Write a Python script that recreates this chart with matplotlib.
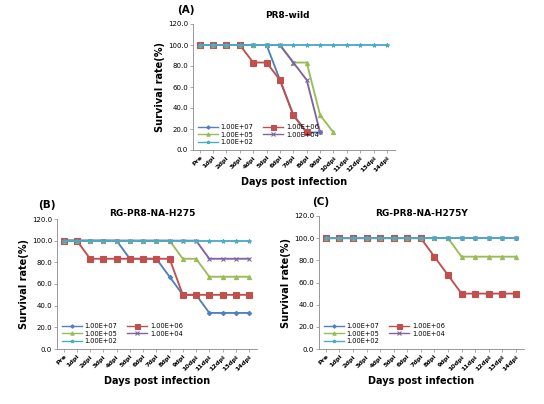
import matplotlib
matplotlib.use("Agg")
import matplotlib.pyplot as plt
import numpy as np

nan = np.nan
days = ["Pre"] + [f"{i}dpi" for i in range(1, 15)]
series_names = ["1.00E+07", "1.00E+06", "1.00E+05", "1.00E+04", "1.00E+02"]

# Panel A: PR8-wild
a_e07 = [100, 100, 100, 100, 100, 100, 66.7, 33.3, 16.7, 16.7, nan, nan, nan, nan, nan]
a_e06 = [100, 100, 100, 100, 83.3, 83.3, 66.7, 33.3, 16.7, nan, nan, nan, nan, nan, nan]
a_e05 = [100, 100, 100, 100, 100, 100, 100, 83.3, 83.3, 33.3, 16.7, nan, nan, nan, nan]
a_e04 = [100, 100, 100, 100, 100, 100, 100, 83.3, 66.7, 16.7, nan, nan, nan, nan, nan]
a_e02 = [100] * 15

# Panel B: RG-PR8-NA-H275
b_e07 = [100, 100, 100, 100, 100, 83.3, 83.3, 83.3, 66.7, 50, 50, 33.3, 33.3, 33.3, 33.3]
b_e06 = [100, 100, 83.3, 83.3, 83.3, 83.3, 83.3, 83.3, 83.3, 50, 50, 50, 50, 50, 50]
b_e05 = [100, 100, 100, 100, 100, 100, 100, 100, 100, 83.3, 83.3, 66.7, 66.7, 66.7, 66.7]
b_e04 = [100, 100, 100, 100, 100, 100, 100, 100, 100, 100, 100, 83.3, 83.3, 83.3, 83.3]
b_e02 = [100] * 15

# Panel C: RG-PR8-NA-H275Y
c_e07 = [100] * 15
c_e06 = [100, 100, 100, 100, 100, 100, 100, 100, 83.3, 66.7, 50, 50, 50, 50, 50]
c_e05 = [100, 100, 100, 100, 100, 100, 100, 100, 100, 100, 83.3, 83.3, 83.3, 83.3, 83.3]
c_e04 = [100] * 15
c_e02 = [100] * 15

colors = ["#4F81BD", "#C0504D", "#9BBB59", "#8064A2", "#4BACC6"]
markers = ["D", "s", "^", "x", "*"]
msizes = [2.2, 4.5, 3, 3, 3]

fig = plt.figure(figsize=(5.44, 4.04), dpi=100)


def panel(rect, data, letter, title, letter_xy, title_xy):
    ax = fig.add_axes(rect)
    x = np.arange(len(days))
    for vals, c, m, ms, name in zip(data, colors, markers, msizes, series_names):
        ax.plot(x, vals, color=c, marker=m, markersize=ms, linewidth=1.35,
                markeredgewidth=0.8, label=name)
    ax.set_xlim(-0.5, 14.6)
    ax.set_ylim(0, 120)
    ax.set_yticks(np.arange(0, 121, 20))
    ax.set_yticklabels([f"{v:.1f}" for v in np.arange(0, 121, 20)], fontsize=5)
    ax.set_xticks(x)
    ax.set_xticklabels(days, fontsize=4.6, rotation=45, ha="right",
                       rotation_mode="anchor", fontweight="bold")
    for s in ["top", "right"]:
        ax.spines[s].set_visible(False)
    for s in ["left", "bottom"]:
        ax.spines[s].set_color("#888888")
        ax.spines[s].set_linewidth(0.6)
    ax.tick_params(length=2, width=0.5, color="#888888", pad=1.5)
    ax.set_ylabel("Survival rate(%)", fontsize=7, fontweight="bold", labelpad=2)
    ax.set_xlabel("Days post infection", fontsize=7, fontweight="bold", labelpad=3)
    h, l = ax.get_legend_handles_labels()
    order = [0, 2, 4, 1, 3]
    leg = ax.legend([h[i] for i in order], [l[i] for i in order], ncol=2, loc="lower left",
                    frameon=False, fontsize=4.8, handlelength=3.0, columnspacing=1.5,
                    labelspacing=0.25, borderaxespad=0.3, handletextpad=0.4,
                    bbox_to_anchor=(0.0, 0.0), markerscale=0.8)
    for line in leg.get_lines():
        line.set_linewidth(1.0)
    fig.text(letter_xy[0] / 544, 1 - letter_xy[1] / 404, letter, fontsize=7.5,
             fontweight="bold", ha="left", va="center")
    fig.text(title_xy[0] / 544, 1 - title_xy[1] / 404, title, fontsize=6.5,
             fontweight="bold", ha="center", va="center")
    return ax


panel([193 / 544, 1 - 150 / 404, 202 / 544, 126 / 404],
      [a_e07, a_e06, a_e05, a_e04, a_e02], "(A)", "PR8-wild", (177, 10), (287, 15))
panel([57 / 544, 1 - 349 / 404, 200 / 544, 130 / 404],
      [b_e07, b_e06, b_e05, b_e04, b_e02], "(B)", "RG-PR8-NA-H275", (38, 205), (152, 214))
panel([319 / 544, 1 - 349 / 404, 205 / 544, 133 / 404],
      [c_e07, c_e06, c_e05, c_e04, c_e02], "(C)", "RG-PR8-NA-H275Y", (312, 202), (422, 214))

fig.savefig("out.png", dpi=100)
